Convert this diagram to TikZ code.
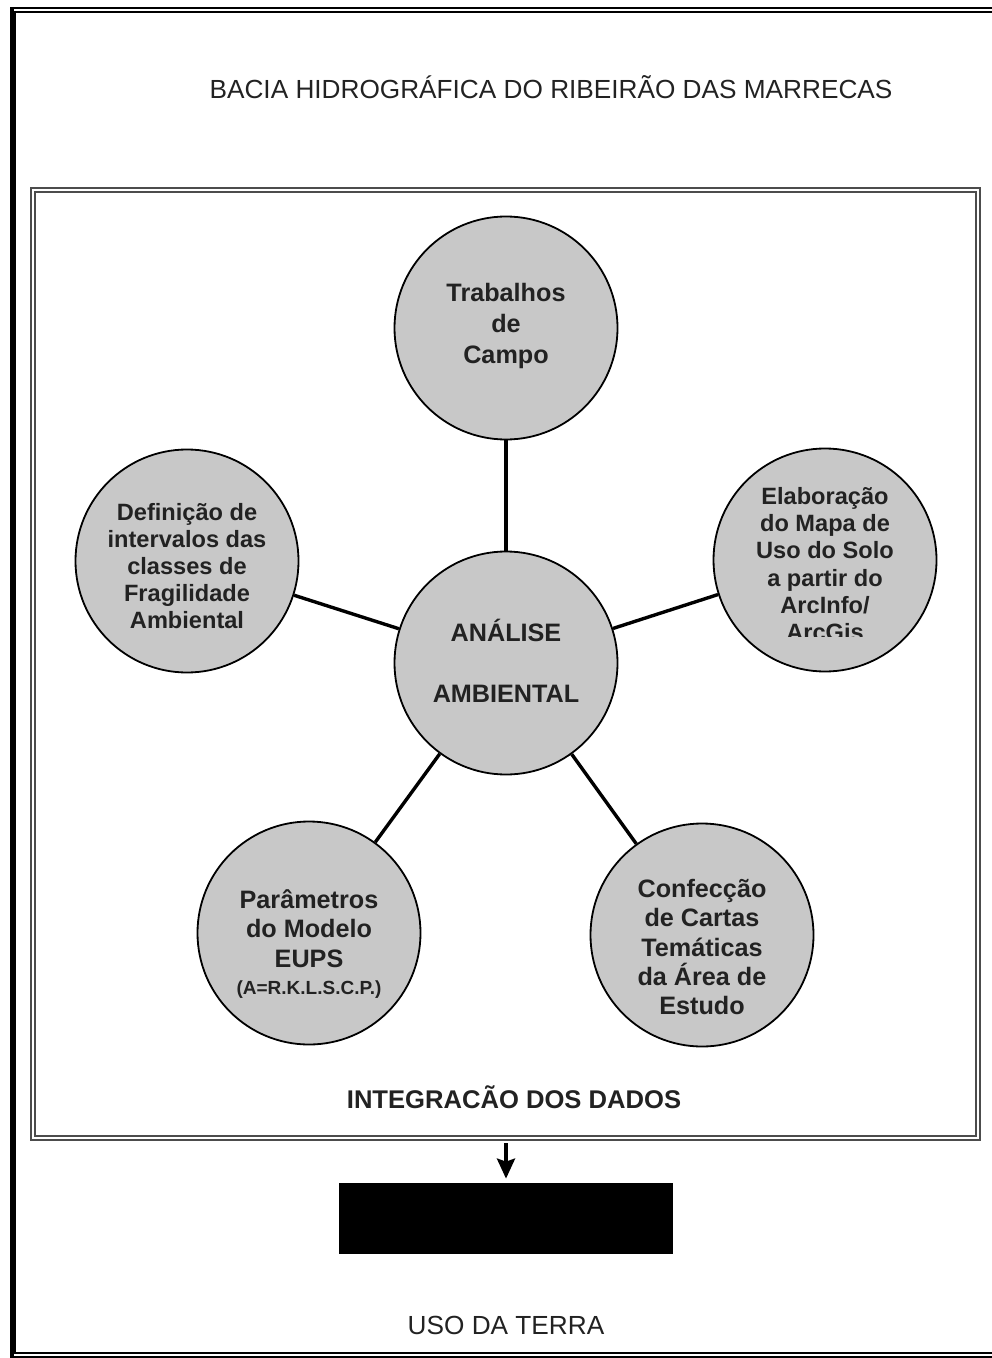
\documentclass[tikz,border=0pt]{standalone}
\usepackage{fontspec}
\setmainfont{Liberation Sans}
\usepackage{tikz}
\usetikzlibrary{arrows, arrows.meta}
\definecolor{bubblegray}{RGB}{200,200,200}
\definecolor{inkgray}{RGB}{34,34,34}

\begin{document}
\begin{tikzpicture}[>={Stealth[length=10pt, width=9pt, inset=1.5pt]}, x=0.5pt, y=-0.5pt,
    bubble/.style={circle, draw, line width=0.9pt, fill=bubblegray, minimum size=111.5pt, inner sep=0pt},
    bubtext/.style={align=center, text=inkgray, font=\bfseries\fontsize{12.6}{14.6}\selectfont},
    smalltext/.style={align=center, text=inkgray, font=\bfseries\fontsize{11.8}{13.6}\selectfont},
    caption/.style={text=inkgray, font=\fontsize{13.1}{15}\selectfont},
    spoke/.style={line width=1.7pt}]
    \useasboundingbox (0,0) rectangle (991,1358);

    % frames
    \draw[line width=0.7pt, double, double distance=1.3pt] (1000,10) -- (13,10) -- (13,1355) -- (1000,1355);
    \draw[line width=1.8pt] (12,8) -- (12,1358);
    \draw[black!70, line width=0.7pt, double, double distance=1.2pt] (33,190) rectangle (978,1138);

    \draw (551,87) node[caption] (bacia) {BACIA HIDROGRÁFICA DO RIBEIRÃO DAS MARRECAS};

    % bubbles
    \draw (506,663) node[bubble] (analise) {};
    \draw (506,328) node[bubble] (campo) {};
    \draw (187,561) node[bubble] (fragil) {};
    \draw (825,560) node[bubble] (mapa) {};
    \draw (309,933) node[bubble] (eups) {};
    \draw (702,935) node[bubble] (cartas) {};

    \draw (analise) ++(0,-2) node[bubtext] {ANÁLISE\\[16pt]AMBIENTAL};
    \draw (campo) ++(0,-2) node[bubtext, font=\bfseries\fontsize{12.6}{15.5}\selectfont] {Trabalhos\\de\\Campo};
    \draw (fragil) ++(0,5) node[smalltext] {Definição de\\intervalos das\\classes de\\Fragilidade\\Ambiental};
    \begin{scope}
        \clip (700,440) rectangle (950,636);
        \draw (mapa) ++(0,4) node[smalltext] {Elaboração\\do Mapa de\\Uso do Solo\\a partir do\\ArcInfo/\\ArcGis};
    \end{scope}
    \draw (eups) ++(0,11) node[bubtext] {Parâmetros\\do Modelo\\EUPS\\[-1pt]{\fontsize{9.5}{11}\selectfont(A=R.K.L.S.C.P.)}};
    \draw (cartas) ++(0,12) node[bubtext] {Confecção\\de Cartas\\Temáticas\\da Área de\\Estudo};

    \draw[spoke] (analise) -- (campo);
    \draw[spoke] (analise) -- (fragil);
    \draw[spoke] (analise) -- (mapa);
    \draw[spoke] (analise) -- (eups);
    \draw[spoke] (analise) -- (cartas);

    \draw (514,1097) node[caption, font=\bfseries\fontsize{12.8}{15}\selectfont] (integra) {INTEGRACÃO DOS DADOS};
    \coordinate (framebot) at (506,1143);
    \draw (506,1218.5) node[fill=black, minimum width=167pt, minimum height=35.5pt, inner sep=0pt] (terra) {};
    \draw[->, line width=1.8pt] (framebot) -- ([yshift=2pt]terra.north);
    \draw (506,1325) node[caption] (uso) {USO DA TERRA};
\end{tikzpicture}
\end{document}
